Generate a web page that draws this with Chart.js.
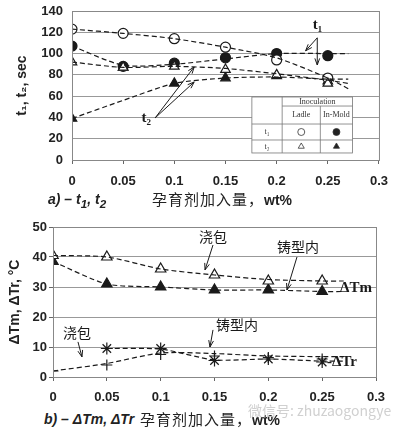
<!DOCTYPE html>
<html>
<head>
<meta charset="utf-8">
<script src="https://cdn.jsdelivr.net/npm/chart.js@4.4.1/dist/chart.umd.min.js"></script>
<style>
  body { margin: 0; background: #fff; }
  .page { position: relative; width: 398px; height: 431px; overflow: hidden; font-family: "Liberation Sans", Arial, sans-serif; }
  .box { position: absolute; left: 0; width: 398px; }
  #topBox { top: 0; height: 210px; }
  #botBox { top: 210px; height: 200px; }
  .cap { position: absolute; white-space: nowrap; color: #222; }
  .cap i { font-weight: bold; font-size: 14px; }
  .cap .zh { font-family: "Noto Sans CJK SC", sans-serif; font-size: 15px; letter-spacing: 1px; }
  .cap .wt { font-weight: bold; font-size: 14px; }
  .mark { position: absolute; left: 248px; top: 400px; white-space: nowrap; color: #d0d0d0; font-size: 14px; font-family: "Noto Sans CJK SC", sans-serif; }
</style>
</head>
<body>
<div class="page">
  <div class="box" id="topBox"><canvas id="topChart"></canvas></div>
  <div class="box" id="botBox"><canvas id="botChart"></canvas></div>
  <div class="cap" style="left:48px;top:190px"><i>a) – t<sub>1</sub>, t<sub>2</sub></i></div>
  <div class="cap" style="left:152px;top:188px"><span class="zh">孕育剂加入量，</span><span class="wt">wt%</span></div>
  <div class="cap" style="left:44px;top:410px"><i>b) – ΔTm, ΔTr</i></div>
  <div class="cap" style="left:140px;top:408px"><span class="zh">孕育剂加入量，</span><span class="wt">wt%</span></div>
  <div class="mark">微信号: zhuzaogongye</div>
</div>
<script>
// inoculant addition, wt%
const additions = [0, 0.05, 0.1, 0.15, 0.2, 0.25];
const fitX = [0, 0.05, 0.1, 0.15, 0.2, 0.25, 0.27];

// a) t1, t2 (sec)
const t1Ladle = [123, 119, 114, 106, 94, 77];
const t1Mold = [107, 88, 91, 96, 100, 98];
const t2Ladle = [92, 87, 88, 85, 80, 72];
const t2Mold = [39, 87, 72, 77, 79, 74];
const t1LadleFit = [123, 119, 114, 106, 96, 77, 67];
const t1MoldFit = [107, 89, 90, 95, 100, 100, 100];
const t2LadleFit = [92, 87, 88, 86, 81, 75, 72];
const t2MoldFit = [39, 56, 72, 77, 78, 76, 76];

// b) dTm, dTr (C)
const tmLadle = [40.5, 40, 36, 34, 32, 32];
const tmMold = [38.5, 31, 30, 29, 29, 28.5];
const trLadle = [2, 4, 7.5, 7, 6.5, 6];
const trMold = [null, 9.5, 9.5, 5.5, 6, 5];
const tmLadleFit = [40.5, 40, 36, 34, 32.5, 32, 32];
const tmMoldFit = [38.5, 31, 30, 29, 29, 28.5, 28.5];
const trLadleFit = [2, 4.5, 8, 7.8, 7, 6.8, 6.8];
const trMoldFit = [null, 9.5, 9.3, 5.7, 6, 5.3, 5.3];

const xTicks = ["0", "0.05", "0.1", "0.15", "0.2", "0.25", "0.3"];

const INK = "#1a1a1a";

function pts(xs, ys) {
  return xs.map((x, i) => ({ x: x, y: ys[i] }));
}

function marks(ys, style, filled, r) {
  return {
    type: "line",
    data: pts(additions, ys),
    showLine: false,
    pointStyle: style,
    pointRadius: r,
    pointBorderWidth: 1.2,
    pointBorderColor: INK,
    pointBackgroundColor: filled ? INK : "#fff",
  };
}

function fit(ys) {
  return {
    type: "line",
    data: pts(fitX, ys),
    borderColor: INK,
    borderWidth: 1.2,
    borderDash: [5, 3],
    pointRadius: 0,
    tension: 0.25,
    spanGaps: true,
  };
}

// labels, arrows and the little legend table
const notesPlugin = {
  id: "notes",
  afterDatasetsDraw(chart, args, opts) {
    const ctx = chart.ctx;
    const sx = chart.scales.x;
    const sy = chart.scales.y;
    const px = (v) => sx.getPixelForValue(v);
    const py = (v) => sy.getPixelForValue(v);
    const area = chart.chartArea;

    ctx.save();
    ctx.strokeStyle = "#888";
    ctx.lineWidth = 1;
    ctx.strokeRect(area.left + 0.5, area.top + 0.5, area.right - area.left, area.bottom - area.top);

    (opts.arrows || []).forEach((a) => {
      const x0 = px(a[0]), y0 = py(a[1]), x1 = px(a[2]), y1 = py(a[3]);
      const ang = Math.atan2(y1 - y0, x1 - x0);
      ctx.strokeStyle = INK;
      ctx.lineWidth = 1;
      ctx.beginPath();
      ctx.moveTo(x0, y0);
      ctx.lineTo(x1, y1);
      ctx.moveTo(x1 - 7 * Math.cos(ang - 0.35), y1 - 7 * Math.sin(ang - 0.35));
      ctx.lineTo(x1, y1);
      ctx.lineTo(x1 - 7 * Math.cos(ang + 0.35), y1 - 7 * Math.sin(ang + 0.35));
      ctx.stroke();
    });

    (opts.texts || []).forEach((t) => {
      ctx.fillStyle = INK;
      ctx.font = t.font;
      ctx.textAlign = t.align || "center";
      ctx.textBaseline = "middle";
      ctx.fillText(t.text, px(t.x), py(t.y));
    });

    if (opts.table) {
      const cols = opts.table.cols.map(px);
      const rows = opts.table.rows.map(py);
      ctx.fillStyle = "#fff";
      ctx.fillRect(cols[0], rows[0], cols[3] - cols[0], rows[4] - rows[0]);
      ctx.strokeStyle = "#777";
      ctx.lineWidth = 0.8;
      ctx.strokeRect(cols[0], rows[0], cols[3] - cols[0], rows[4] - rows[0]);
      ctx.beginPath();
      ctx.moveTo(cols[1], rows[0]); ctx.lineTo(cols[1], rows[4]);
      ctx.moveTo(cols[2], rows[1]); ctx.lineTo(cols[2], rows[4]);
      ctx.moveTo(cols[1], rows[1]); ctx.lineTo(cols[3], rows[1]);
      ctx.moveTo(cols[0], rows[2]); ctx.lineTo(cols[3], rows[2]);
      ctx.moveTo(cols[0], rows[3]); ctx.lineTo(cols[3], rows[3]);
      ctx.stroke();

      const mid = (a, b) => (a + b) / 2;
      ctx.fillStyle = "#333";
      ctx.font = '8px "Liberation Serif", serif';
      ctx.textAlign = "center";
      ctx.textBaseline = "middle";
      ctx.fillText("Inoculation", mid(cols[1], cols[3]), mid(rows[0], rows[1]));
      ctx.fillText("Ladle", mid(cols[1], cols[2]), mid(rows[1], rows[2]));
      ctx.fillText("In-Mold", mid(cols[2], cols[3]), mid(rows[1], rows[2]));
      ctx.fillText("t\u2081", mid(cols[0], cols[1]), mid(rows[2], rows[3]));
      ctx.fillText("t\u2082", mid(cols[0], cols[1]), mid(rows[3], rows[4]));

      const cell = (style, filled, c, r) => {
        ctx.strokeStyle = "#333";
        ctx.fillStyle = filled ? "#222" : "#fff";
        ctx.lineWidth = 0.8;
        Chart.helpers.drawPoint(ctx, { pointStyle: style, radius: 3.5, borderWidth: 0.8 },
          mid(cols[c], cols[c + 1]), mid(rows[r], rows[r + 1]));
      };
      cell("circle", false, 1, 2);
      cell("circle", true, 2, 2);
      cell("triangle", false, 1, 3);
      cell("triangle", true, 2, 3);
    }
    ctx.restore();
  },
};

function xScale(h, pad) {
  return {
    type: "linear",
    min: 0,
    max: 0.3,
    afterFit: (s) => { s.height = h; },
    afterBuildTicks: (s) => { s.ticks = xTicks.map((t) => ({ value: +t })); },
    ticks: {
      padding: pad,
      color: "#222",
      font: { family: "Liberation Sans", size: 13, weight: "bold" },
      callback: (v, i) => xTicks[i],
    },
    grid: { drawOnChartArea: false, drawTicks: true, tickLength: 4, color: "#666" },
    border: { color: "#555" },
  };
}

// tick marks are given a length and colour so labels sit off the axis without extra top padding
function yScale(w, max, step, title, titlePad, tickLen, tickColor) {
  return {
    min: 0,
    max: max,
    afterFit: (s) => { s.width = w; },
    ticks: {
      stepSize: step,
      padding: 2,
      color: "#222",
      font: { family: "Liberation Sans", size: 13, weight: "bold" },
    },
    grid: { color: "#999", drawTicks: true, tickLength: tickLen, tickColor: tickColor },
    border: { color: "#777" },
    title: {
      display: true,
      text: title,
      color: "#222",
      padding: { top: titlePad, bottom: 0 },
      font: { family: "Liberation Sans", size: 14, weight: "bold" },
    },
  };
}

const serifBold = 'bold 15px "Liberation Serif", serif';
const zh = '14px "Noto Sans CJK SC", sans-serif';

new Chart(document.getElementById("topChart"), {
  data: {
    datasets: [
      fit(t1LadleFit), fit(t1MoldFit), fit(t2LadleFit), fit(t2MoldFit),
      marks(t2Ladle, "triangle", false, 5.5),
      marks(t1Ladle, "circle", false, 5),
      marks(t2Mold, "triangle", true, 5.5),
      marks(t1Mold, "circle", true, 5),
    ],
  },
  options: {
    responsive: true,
    maintainAspectRatio: false,
    animation: false,
    layout: { padding: { left: 0, right: 12, top: 11, bottom: 0 } },
    scales: {
      x: xScale(50, 10),
      y: yScale(72, 140, 20, "t\u2081, t\u2082, sec", 14, 7, "rgba(0,0,0,0)"),
    },
    plugins: {
      legend: { display: false },
      tooltip: { enabled: false },
      notes: {
        texts: [
          { text: "t\u2081", x: 0.24, y: 127, font: serifBold },
          { text: "t\u2082", x: 0.0726, y: 39.5, font: serifBold },
        ],
        arrows: [
          [0.2397, 114.8, 0.2283, 102.6],
          [0.2397, 114.8, 0.2397, 89.3],
          [0.0812, 39.5, 0.1194, 87.4],
          [0.0812, 39.5, 0.1194, 73.3],
        ],
        table: {
          cols: [0.1758, 0.2054, 0.2427, 0.2742],
          rows: [59.2, 50.7, 33.8, 18.8, 6.6],
        },
      },
    },
  },
  plugins: [notesPlugin],
});

new Chart(document.getElementById("botChart"), {
  data: {
    datasets: [
      fit(tmLadleFit), fit(tmMoldFit), fit(trLadleFit), fit(trMoldFit),
      marks(tmLadle, "triangle", false, 6),
      marks(tmMold, "triangle", true, 6),
      marks(trLadle, "cross", false, 5.5),
      marks(trMold, "star", false, 6),
    ],
  },
  options: {
    responsive: true,
    maintainAspectRatio: false,
    animation: false,
    layout: { padding: { left: 0, right: 22, top: 17, bottom: 0 } },
    scales: {
      x: xScale(33, 9),
      y: yScale(53, 50, 10, "ΔTm, ΔTr, °C", 7, 4, "#666"),
    },
    plugins: {
      legend: { display: false },
      tooltip: { enabled: false },
      notes: {
        texts: [
          { text: "浇包", x: 0.1486, y: 46.7, font: zh },
          { text: "铸型内", x: 0.2276, y: 43.3, font: zh },
          { text: "ΔTm", x: 0.2666, y: 29.7, font: serifBold, align: "left" },
          { text: "-ΔTr", x: 0.2545, y: 5, font: serifBold, align: "left" },
          { text: "浇包", x: 0.0223, y: 14.7, font: zh },
          { text: "铸型内", x: 0.1709, y: 17.3, font: zh },
        ],
        arrows: [
          [0.1486, 44, 0.1412, 35.7],
          [0.2266, 40, 0.2173, 29],
          [0.0232, 11.7, 0.0269, 6.7],
          [0.1486, 15.7, 0.1458, 10],
        ],
      },
    },
  },
  plugins: [notesPlugin],
});
</script>
</body>
</html>
